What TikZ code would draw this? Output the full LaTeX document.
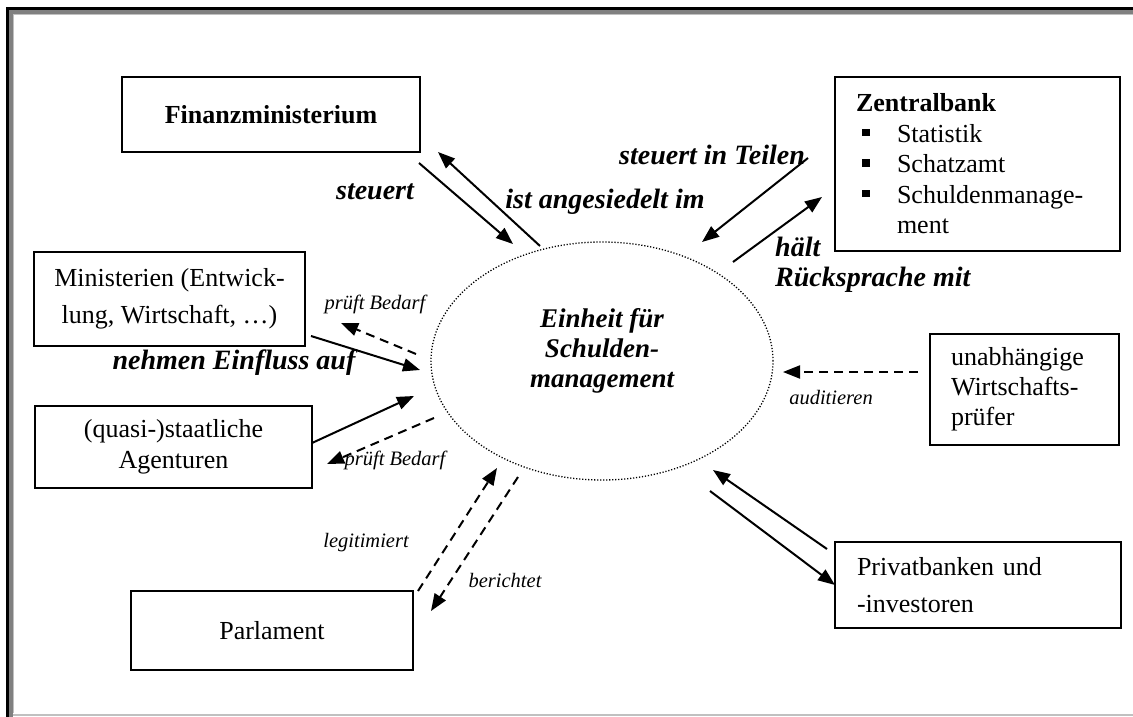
\documentclass[tikz,border=0pt]{standalone}
\usepackage{fontspec}
\setmainfont{Liberation Serif}
\usetikzlibrary{arrows.meta,shapes.geometric}
\newcommand\zbul{\makebox[41pt][l]{\hspace{6pt}\rule[6pt]{7.5pt}{7.5pt}}}
\begin{document}
\begin{tikzpicture}[x=1pt,y=-1pt,
  box/.style={draw=black,line width=2pt,rectangle,inner sep=0pt,font=\fontsize{26}{30}\selectfont},
  lbl/.style={font=\fontsize{28}{30}\selectfont\bfseries\itshape,inner sep=0pt},
  elltxt/.style={font=\fontsize{27}{30}\selectfont\bfseries\itshape,inner sep=0pt},
  sml/.style={font=\fontsize{20.5}{24}\selectfont\itshape,inner sep=0pt},
  arr/.style={line width=2pt,-{Triangle[length=17pt,width=13pt]}},
  darr/.style={arr,dash pattern=on 9pt off 6pt},
  unit/.style={draw=black,ellipse,line width=1.3pt,dash pattern=on 1.2pt off 1.8pt,inner sep=0pt,minimum width=342pt,minimum height=238pt}
]
\useasboundingbox (0,0) rectangle (1133,717);
% frame
\draw[line width=3pt] (7,717) -- (7,8.5) -- (1133,8.5);
\draw[line width=4pt,color={rgb,255:red,128;green,128;blue,128}] (10.5,717) -- (10.5,12) -- (1133,12);
\draw[line width=1.5pt,color={rgb,255:red,192;green,192;blue,192}] (13.25,713) -- (13.25,14.75) -- (1133,14.75);
\draw[line width=2pt,color={rgb,255:red,192;green,192;blue,192}] (12.5,715) -- (1133,715);

% boxes
\node[box,minimum width=298pt,minimum height=75pt,font=\fontsize{26}{30}\selectfont\bfseries] (fin) at (271,114.5) {Finanzministerium};
\node[box,minimum width=285pt,minimum height=174pt,text width=243pt,align=left,font=\fontsize{26}{30.5}\selectfont] (zb) at (977.5,164)
  {\textbf{Zentralbank}\\ \zbul Statistik\\ \zbul Schatzamt\\ \zbul Schuldenmanage-\\ \hspace*{41pt}ment};
\node[box,minimum width=271pt,minimum height=94pt,align=center,font=\fontsize{26}{37}\selectfont] (min) at (169.5,299) {Ministerien (Entwick-\\lung, Wirtschaft, …)};
\node[box,minimum width=277pt,minimum height=82pt,align=center,font=\fontsize{26}{31}\selectfont] (quasi) at (173.5,447) {(quasi-)staatliche\\Agenturen};
\node[box,minimum width=282pt,minimum height=79pt] (parl) at (272,630.5) {Parlament};
\node[box,minimum width=189pt,minimum height=111pt,text width=147pt,align=left,font=\fontsize{26}{30}\selectfont] (unab) at (1024.5,389.5) {unabhängige\\Wirtschafts-\\prüfer};
\node[box,minimum width=286pt,minimum height=86pt,text width=242pt,align=left,font=\fontsize{26}{37}\selectfont] (priv) at (978,585) {Privatbanken und\\-investoren};

% centre
\node[unit] (ell) at (602,361) {};
\node[elltxt,align=center] (ellt) at (602,351) {Einheit für\\Schulden-\\management};

% connector end points
\coordinate (a1s) at (419,163); \coordinate (a1e) at (513,244);
\coordinate (a2s) at (540,246); \coordinate (a2e) at (438,152);
\coordinate (a3s) at (808,158); \coordinate (a3e) at (702,242);
\coordinate (a4s) at (733,262); \coordinate (a4e) at (822,197);
\coordinate (a5s) at (311,336); \coordinate (a5e) at (420,370);
\coordinate (a6s) at (312,443); \coordinate (a6e) at (414,396);
\coordinate (d1s) at (416,354); \coordinate (d1e) at (341,323);
\coordinate (d2s) at (434,418); \coordinate (d2e) at (327,464);
\coordinate (d3s) at (918,372); \coordinate (d3e) at (783,372);
\coordinate (d4s) at (418,591); \coordinate (d4e) at (497,468);
\coordinate (d5s) at (518,477); \coordinate (d5e) at (431,611);
\coordinate (a7s) at (827,549); \coordinate (a7e) at (713,470);
\coordinate (a8s) at (710,491); \coordinate (a8e) at (835,585);

\draw[arr] (a1s) -- (a1e);
\draw[arr] (a2s) -- (a2e);
\draw[arr] (a3s) -- (a3e);
\draw[arr] (a4s) -- (a4e);
\draw[arr] (a5s) -- (a5e);
\draw[arr] (a6s) -- (a6e);
\draw[darr] (d1s) -- (d1e);
\draw[darr] (d2s) -- (d2e);
\draw[darr] (d3s) -- (d3e);
\draw[darr] (d4s) -- (d4e);
\draw[darr] (d5s) -- (d5e);
\draw[arr] (a7s) -- (a7e);
\draw[arr] (a8s) -- (a8e);

% labels
\node[lbl] (l1) at (375,192) {steuert};
\node[lbl] (l2) at (605,202) {ist angesiedelt im};
\node[lbl] (l3) at (712,155) {steuert in Teilen};
\node[lbl,align=left,anchor=west] (l4) at (775,265) {hält\\Rücksprache mit};
\node[lbl] (l5) at (234,363) {nehmen Einfluss auf};
\node[sml] (l6) at (375,304) {prüft Bedarf};
\node[sml] (l7) at (395,460) {prüft Bedarf};
\node[sml] (l8) at (831,398) {auditieren};
\node[sml] (l9) at (366,543) {legitimiert};
\node[sml] (l10) at (505,580) {berichtet};
\end{tikzpicture}
\end{document}
